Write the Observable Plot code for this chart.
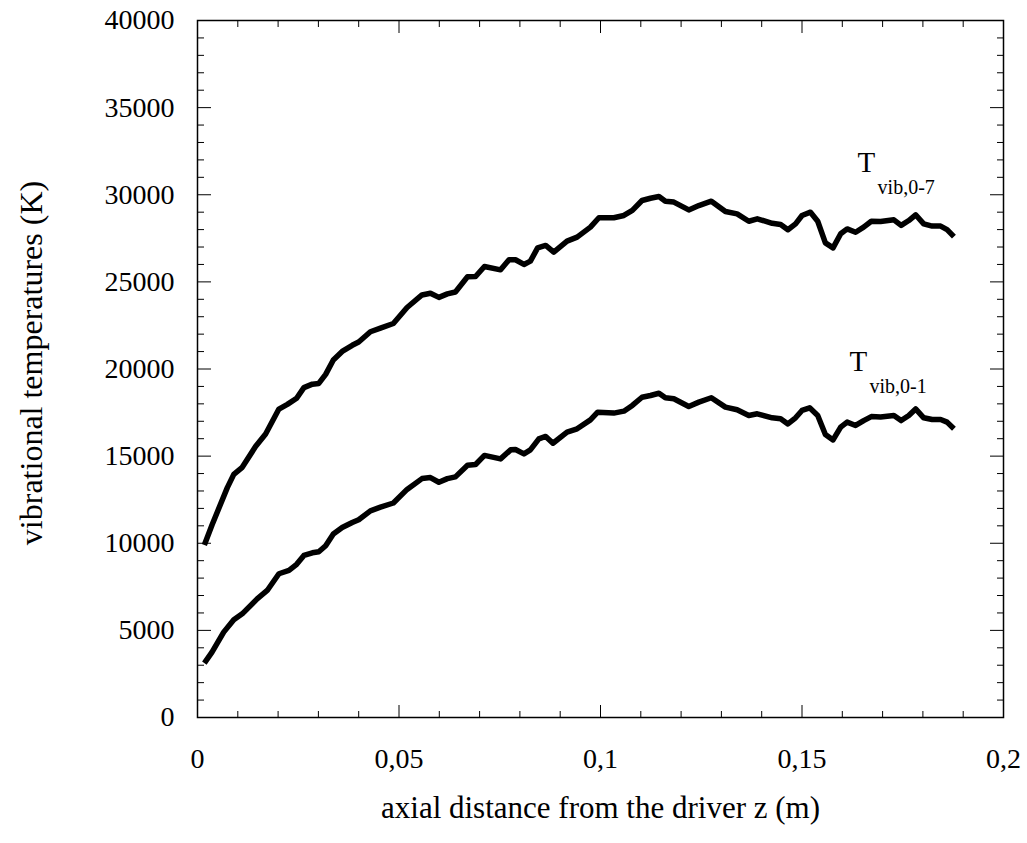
<!DOCTYPE html>
<html>
<head>
<meta charset="utf-8">
<script src="https://cdn.jsdelivr.net/npm/d3@7"></script>
<script src="https://cdn.jsdelivr.net/npm/@observablehq/plot@0.6"></script>
<style>
  html, body { margin: 0; padding: 0; background: #fff; }
  #chart svg { display: block; }
</style>
</head>
<body>
<div id="chart"></div>
<script>
// ---- data ----
const z07 = [0.0017,0.0036,0.0074,0.0090,0.0111,0.0144,0.0169,0.0202,0.0223,0.0246,0.0264,0.0285,0.0301,0.0318,0.0337,0.0359,0.0384,0.0400,0.0429,0.0454,0.0486,0.0520,0.0557,0.0578,0.0599,0.0620,0.0640,0.0670,0.0690,0.0712,0.0752,0.0773,0.0789,0.0810,0.0826,0.0844,0.0864,0.0884,0.0917,0.0942,0.0975,0.0996,0.1033,0.1058,0.1079,0.1103,0.1124,0.1145,0.1161,0.1182,0.1219,0.1244,0.1275,0.1310,0.1339,0.1368,0.1389,0.1426,0.1447,0.1465,0.1484,0.1500,0.1521,0.1539,0.1558,0.1577,0.1596,0.1612,0.1633,0.1653,0.1672,0.1695,0.1728,0.1746,0.1765,0.1782,0.1802,0.1823,0.1844,0.1860,0.1877];
const t07 = [9900,11050,13190,13950,14360,15550,16270,17700,17970,18320,18930,19130,19170,19690,20520,21010,21360,21550,22140,22350,22610,23530,24250,24350,24110,24310,24420,25290,25310,25880,25690,26270,26270,26000,26190,26950,27090,26710,27340,27570,28140,28680,28680,28810,29100,29670,29800,29900,29630,29580,29130,29380,29630,29040,28900,28480,28620,28360,28290,27990,28330,28810,29000,28480,27240,26950,27760,28040,27850,28140,28480,28460,28560,28240,28520,28850,28330,28200,28200,28000,27600];

const z01 = [0.0017,0.0036,0.0065,0.0090,0.0111,0.0148,0.0173,0.0202,0.0227,0.0246,0.0264,0.0285,0.0301,0.0318,0.0337,0.0359,0.0384,0.0400,0.0429,0.0454,0.0486,0.0520,0.0557,0.0578,0.0599,0.0620,0.0640,0.0670,0.0690,0.0712,0.0752,0.0777,0.0789,0.0810,0.0826,0.0847,0.0864,0.0882,0.0917,0.0942,0.0975,0.0993,0.1033,0.1058,0.1079,0.1103,0.1124,0.1145,0.1161,0.1182,0.1219,0.1244,0.1275,0.1310,0.1339,0.1368,0.1389,0.1426,0.1447,0.1465,0.1484,0.1500,0.1519,0.1539,0.1558,0.1577,0.1596,0.1612,0.1633,0.1653,0.1672,0.1695,0.1728,0.1746,0.1765,0.1782,0.1802,0.1823,0.1844,0.1860,0.1877];
const t01 = [3120,3750,4900,5610,5950,6810,7290,8250,8440,8790,9300,9450,9510,9860,10530,10900,11190,11350,11860,12070,12310,13090,13710,13770,13500,13710,13810,14480,14520,15040,14840,15360,15380,15130,15360,15990,16130,15740,16380,16570,17080,17520,17470,17580,17910,18380,18480,18610,18350,18290,17850,18100,18350,17810,17660,17330,17430,17200,17140,16850,17200,17620,17770,17330,16240,15930,16660,16950,16760,17040,17270,17240,17330,17040,17330,17710,17200,17100,17100,16950,16570];

const yMajor = [0, 5000, 10000, 15000, 20000, 25000, 30000, 35000, 40000];
const yMinor = d3.range(0, 40001, 1000).filter(v => v % 5000 !== 0);
const xMajor = [0, 0.05, 0.1, 0.15, 0.2];
const xMinor = d3.range(0, 21).map(i => i / 100).filter((v, i) => i % 5 !== 0);

const seriesNames = ["T", "T"];
const seriesSubs = ["vib,0-7", "vib,0-1"];
const labelZ = [0.1638, 0.1618];
const labelTemp = [31850, 20430];

const xTitle = "axial distance from the driver z (m)";
const yTitle = "vibrational temperatures (K)";

// ---- build ----
const upper = z07.map((z, i) => ({z, t: t07[i]}));
const lower = z01.map((z, i) => ({z, t: t01[i]}));
const labels = seriesNames.map((n, i) => ({n, s: seriesSubs[i], z: labelZ[i], t: labelTemp[i]}));

const font = "'Liberation Serif', 'Times New Roman', serif";
const fmtX = d => String(d).replace(".", ",");

const chart = Plot.plot({
  width: 1027,
  height: 843,
  marginLeft: 197,
  marginRight: 24,
  marginTop: 20,
  marginBottom: 126,
  style: {fontFamily: font, fontSize: "28px", background: "#fff", color: "#000"},
  x: {domain: [0, 0.2]},
  y: {domain: [0, 40000]},
  marks: [
    // inward ticks on all four sides
    Plot.axisY(yMajor, {anchor: "left", tickSize: -14, fill: "none", label: null}),
    Plot.axisY(yMinor, {anchor: "left", tickSize: -7, fill: "none", label: null}),
    Plot.axisY(yMajor, {anchor: "right", tickSize: -14, fill: "none", label: null}),
    Plot.axisY(yMinor, {anchor: "right", tickSize: -7, fill: "none", label: null}),
    Plot.axisX(xMajor, {anchor: "bottom", tickSize: -12, fill: "none", label: null}),
    Plot.axisX(xMinor, {anchor: "bottom", tickSize: -6, fill: "none", label: null}),
    Plot.axisX(xMajor, {anchor: "top", tickSize: -12, fill: "none", label: null}),
    Plot.axisX(xMinor, {anchor: "top", tickSize: -6, fill: "none", label: null}),
    // tick labels
    Plot.axisY(yMajor, {anchor: "left", tickSize: 0, tickPadding: 23, label: null, fontSize: 28, tickFormat: d => String(d)}),
    Plot.axisX(xMajor, {anchor: "bottom", tickSize: 0, tickPadding: 31, label: null, fontSize: 28, tickFormat: fmtX}),
    Plot.frame({stroke: "#000", strokeWidth: 1.5}),
    // curves
    Plot.line(upper, {x: "z", y: "t", stroke: "#000", strokeWidth: 5.5, strokeLinejoin: "round", strokeLinecap: "butt"}),
    Plot.line(lower, {x: "z", y: "t", stroke: "#000", strokeWidth: 5.5, strokeLinejoin: "round", strokeLinecap: "butt"}),
    // series labels
    Plot.text(labels, {x: "z", y: "t", text: "n", textAnchor: "start", fontSize: 29, fill: "#000"}),
    Plot.text(labels, {x: "z", y: "t", text: "s", textAnchor: "start", fontSize: 20, dx: 20, dy: 25, fill: "#000"}),
    // axis titles
    Plot.text([xTitle], {frameAnchor: "bottom", dy: 100, text: d => d, fontSize: 31, textAnchor: "middle", fill: "#000"}),
    Plot.text([yTitle], {frameAnchor: "left", dx: -166, dy: -6, rotate: -90, text: d => d, fontSize: 32, textAnchor: "middle", fill: "#000"})
  ]
});

document.getElementById("chart").appendChild(chart);
</script>
</body>
</html>
